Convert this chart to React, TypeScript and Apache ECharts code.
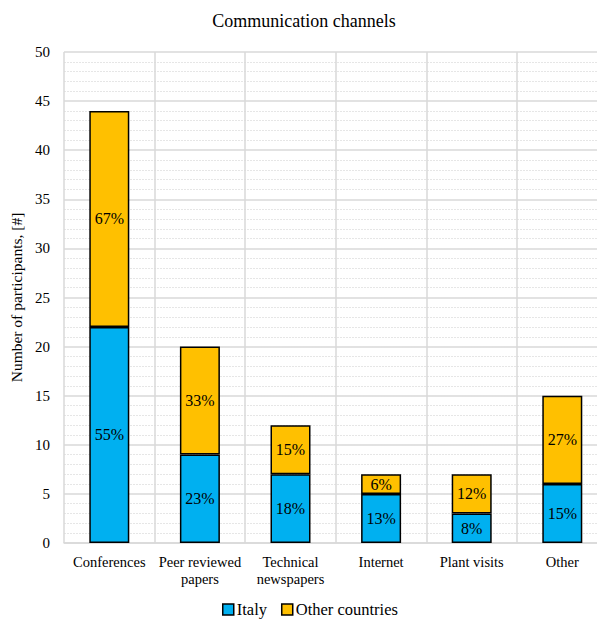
import React, { useEffect, useRef } from "react";
import * as echarts from "echarts";

const categories = ["Conferences", "Peer reviewed\npapers", "Technical\nnewspapers", "Internet", "Plant visits", "Other"];
const italyValues = [22, 9, 7, 5, 3, 6];
const otherValues = [22, 11, 5, 2, 4, 9];
const italyLabels = ["55%", "23%", "18%", "13%", "8%", "15%"];
const otherLabels = ["67%", "33%", "15%", "6%", "12%", "27%"];

const FONT = "Liberation Serif";

export default function App() {
  const ref = useRef<HTMLDivElement>(null);
  useEffect(() => {
    if (!ref.current) return;
    const chart = echarts.init(ref.current, undefined, { renderer: "svg" });
    chart.setOption({
      animation: false,
      backgroundColor: "#ffffff",
      textStyle: { fontFamily: FONT },
      title: {
        text: "Communication channels",
        left: 299,
        textAlign: "center",
        top: 7,
        textStyle: { fontFamily: FONT, fontSize: 18, fontWeight: "normal", color: "#000" },
      },
      legend: {
        bottom: 0,
        left: 217,
        itemWidth: 11,
        itemHeight: 11,
        itemGap: 14,
        icon: "rect",
        textStyle: { fontFamily: FONT, fontSize: 16.5, color: "#000", padding: [0, 0, 0, -2] },
        data: [
          { name: "Italy", itemStyle: { borderColor: "#000", borderWidth: 1.5 } },
          { name: "Other countries", itemStyle: { borderColor: "#000", borderWidth: 1.5 } },
        ],
      },
      grid: { left: 64, width: 543.6, top: 52, height: 491, containLabel: false },
      xAxis: {
        type: "category",
        data: categories,
        axisLine: { lineStyle: { color: "#d9d9d9", width: 1.5 } },
        axisTick: { show: false },
        axisLabel: { fontFamily: FONT, fontSize: 14.5, color: "#000", margin: 10, lineHeight: 17, interval: 0 },
        splitLine: { show: true, lineStyle: { color: "#d9d9d9", width: 1.5 } },
      },
      yAxis: {
        type: "value",
        min: 0,
        max: 50,
        interval: 5,
        name: "Number of participants, [#]",
        nameLocation: "middle",
        nameGap: 29,
        nameTextStyle: { fontFamily: FONT, fontSize: 15.5, color: "#000" },
        axisLine: { show: false },
        axisTick: { show: false },
        axisLabel: { fontFamily: FONT, fontSize: 15, color: "#000", margin: 14 },
        splitLine: { lineStyle: { color: "#d9d9d9", width: 1.5 } },
        minorTick: { show: false, splitNumber: 5 },
        minorSplitLine: { show: true, lineStyle: { color: "#e6e6e6", width: 1, type: [2, 1] } },
      },
      series: [
        {
          name: "Italy",
          type: "bar",
          stack: "total",
          barWidth: 40,
          data: italyValues,
          itemStyle: { color: "#00B0F0", borderColor: "#000", borderWidth: 1.5 },
          label: {
            show: true,
            position: "inside",
            fontFamily: FONT,
            fontSize: 16,
            color: "#000",
            formatter: (p: any) => italyLabels[p.dataIndex],
          },
        },
        {
          name: "Other countries",
          type: "bar",
          stack: "total",
          barWidth: 40,
          data: otherValues,
          itemStyle: { color: "#FFC000", borderColor: "#000", borderWidth: 1.5 },
          label: {
            show: true,
            position: "inside",
            fontFamily: FONT,
            fontSize: 16,
            color: "#000",
            formatter: (p: any) => otherLabels[p.dataIndex],
          },
        },
      ],
    });
    return () => chart.dispose();
  }, []);
  return (
    <div style={{ position: "fixed", left: 0, top: 0, width: 597, height: 623, overflow: "hidden", background: "#fff" }}>
      <div ref={ref} style={{ width: 620, height: 623 }} />
    </div>
  );
}
